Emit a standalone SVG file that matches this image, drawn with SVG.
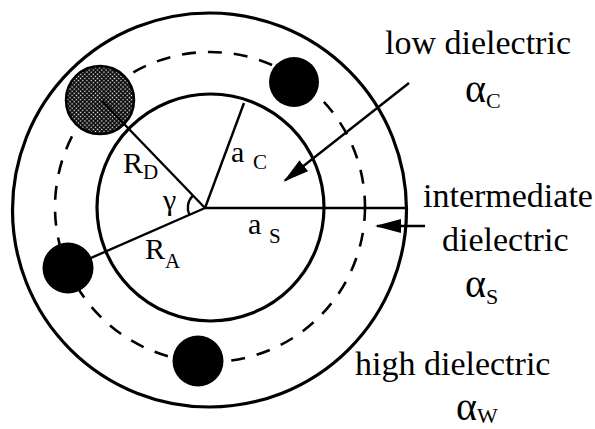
<svg xmlns="http://www.w3.org/2000/svg" width="595" height="429" viewBox="0 0 595 429">
  <style>
    .ring { fill: none; stroke: #000; stroke-width: 3.2; }
    .dash { fill: none; stroke: #000; stroke-width: 2.6; stroke-dasharray: 14 12; }
    .ball { fill: #000; }
    .ln { fill: none; stroke: #000; stroke-width: 2.4; }
    .t { font-family: "Liberation Serif", "Times New Roman", serif; fill: #000; }
    .big { font-size: 34px; }
    .lab { font-size: 30px; }
    .sub { font-size: 21px; }
    .gk { font-size: 40px; }
    .gsub { font-size: 22px; }
  </style>
  <defs>
    <pattern id="hatch" width="3" height="3" patternUnits="userSpaceOnUse" patternTransform="rotate(45)">
      <rect width="3" height="3" fill="#000"/>
      <rect x="0.8" y="0.8" width="1.4" height="1.4" fill="#fff"/>
    </pattern>
    <marker id="ah" markerUnits="userSpaceOnUse" viewBox="0 0 26 14" refX="24" refY="7" markerWidth="26" markerHeight="14" orient="auto">
      <path d="M0,0 L26,7 L0,14 z" fill="#000"/>
    </marker>
  </defs>

  <g id="outer-region">
    <circle class="ring" cx="209.5" cy="210" r="197"/>
  </g>
  <g id="dashed-track">
    <circle class="dash" cx="210" cy="207" r="155"/>
  </g>
  <g id="inner-region">
    <circle class="ring" cx="210.5" cy="207.5" r="113.5"/>
  </g>

  <g id="connectors">
    <line class="ln" x1="205" y1="208" x2="407" y2="208"/>
    <line class="ln" x1="205" y1="208" x2="244" y2="103"/>
    <line class="ln" x1="205" y1="208" x2="68" y2="268"/>
    <path class="ln" d="M192.6,195.9 A17,17 0 0 0 189.4,214.9"/>
    <line class="ln" x1="409" y1="83" x2="285" y2="180.5" marker-end="url(#ah)"/>
    <line class="ln" x1="425" y1="226" x2="377" y2="226" marker-end="url(#ah)"/>
  </g>

  <g id="ball-donor">
    <circle cx="100" cy="100" r="34" fill="url(#hatch)" stroke="#000" stroke-width="2.5"/>
    <line class="ln" x1="102" y1="101" x2="205" y2="208"/>
  </g>
  <g id="ball-top">
    <circle class="ball" cx="294" cy="82" r="25"/>
  </g>
  <g id="ball-left">
    <circle class="ball" cx="68" cy="268" r="25.5"/>
  </g>
  <g id="ball-bottom">
    <circle class="ball" cx="198" cy="361" r="25.5"/>
  </g>

  <g id="labels">
    <text class="t lab" x="123" y="173">R<tspan class="sub" dy="6">D</tspan></text>
    <text class="t lab" x="163" y="210" font-size="32">γ</text>
    <text class="t lab" x="145" y="259">R<tspan class="sub" dy="9">A</tspan></text>
    <text class="t lab" x="231" y="162">a<tspan class="sub" x="253" dy="7">C</tspan></text>
    <text class="t lab" x="248" y="234">a<tspan class="sub" x="269" dy="9">S</tspan></text>
  </g>

  <g id="label-low">
    <text class="t big" x="385" y="54">low dielectric</text>
    <text class="t gk" x="465" y="102">α<tspan class="gsub" dy="6">C</tspan></text>
  </g>
  <g id="label-intermediate">
    <text class="t big" x="423" y="207">intermediate</text>
    <text class="t big" x="442" y="251">dielectric</text>
    <text class="t gk" x="465" y="297">α<tspan class="gsub" dy="7">S</tspan></text>
  </g>
  <g id="label-high">
    <text class="t big" x="355" y="375">high dielectric</text>
    <text class="t gk" x="456" y="420">α<tspan class="gsub" dy="3">W</tspan></text>
  </g>
</svg>
